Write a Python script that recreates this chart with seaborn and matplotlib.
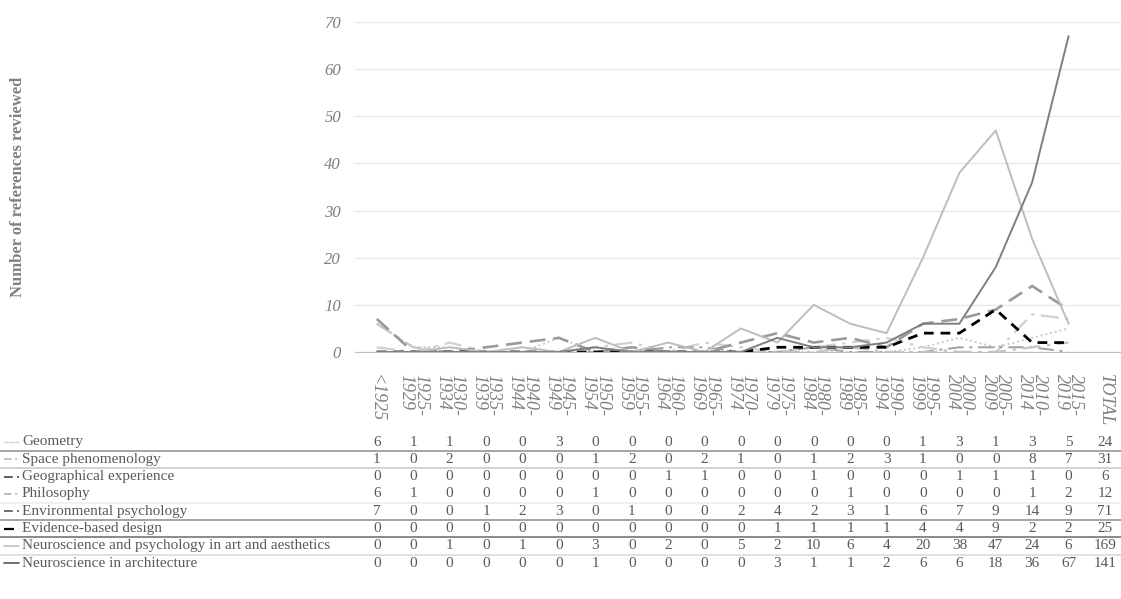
import numpy as np
import pandas as pd
import matplotlib
matplotlib.use("Agg")
import matplotlib.pyplot as plt
import matplotlib.transforms as mtransforms
from matplotlib.lines import Line2D
import seaborn as sns

periods = ["<1925", "1925-\n1929", "1930-\n1934", "1935-\n1939", "1940-\n1944", "1945-\n1949",
           "1950-\n1954", "1955-\n1959", "1960-\n1964", "1965-\n1969", "1970-\n1974", "1975-\n1979",
           "1980-\n1984", "1985-\n1989", "1990-\n1994", "1995-\n1999", "2000-\n2004", "2005-\n2009",
           "2010-\n2014", "2015-\n2019", "TOTAL"]

series_names = ["Geometry", "Space phenomenology", "Geographical experience", "Philosophy",
                "Environmental psychology", "Evidence-based design",
                "Neuroscience and psychology in art and aesthetics", "Neuroscience in architecture"]

geometry = [6, 1, 1, 0, 0, 3, 0, 0, 0, 0, 0, 0, 0, 0, 0, 1, 3, 1, 3, 5, 24]
space_phen = [1, 0, 2, 0, 0, 0, 1, 2, 0, 2, 1, 0, 1, 2, 3, 1, 0, 0, 8, 7, 31]
geo_exp = [0, 0, 0, 0, 0, 0, 0, 0, 1, 1, 0, 0, 1, 0, 0, 0, 1, 1, 1, 0, 6]
philosophy = [6, 1, 0, 0, 0, 0, 1, 0, 0, 0, 0, 0, 0, 1, 0, 0, 0, 0, 1, 2, 12]
env_psych = [7, 0, 0, 1, 2, 3, 0, 1, 0, 0, 2, 4, 2, 3, 1, 6, 7, 9, 14, 9, 71]
evidence = [0, 0, 0, 0, 0, 0, 0, 0, 0, 0, 0, 1, 1, 1, 1, 4, 4, 9, 2, 2, 25]
neuro_art = [0, 0, 1, 0, 1, 0, 3, 0, 2, 0, 5, 2, 10, 6, 4, 20, 38, 47, 24, 6, 169]
neuro_arch = [0, 0, 0, 0, 0, 0, 1, 0, 0, 0, 0, 3, 1, 1, 2, 6, 6, 18, 36, 67, 141]

all_series = [geometry, space_phen, geo_exp, philosophy, env_psych, evidence, neuro_art, neuro_arch]

# line styles per series (colour, dash pattern, width)
styles = [
    ("#c8c8c8", (0, (1, 1.5)), 1.4),
    ("#d0d0d0", (0, (8, 3, 1.5, 3)), 1.6),
    ("#a0a0a0", (0, (8, 3, 1.5, 3)), 1.4),
    ("#c4c4c4", (0, (8, 3, 1.5, 3)), 1.6),
    ("#9a9a9a", (0, (6, 3)), 1.9),
    ("#000000", (0, (3.5, 2.5)), 2.0),
    ("#bdbdbd", "-", 1.4),
    ("#7f7f7f", "-", 1.4),
]
# small samples in front of the table row names
key_styles = [
    ("#b0b0b0", (0, (0.8, 0.8)), 1.0),
    ("#b8b8b8", (0, (4.5, 2.2, 1.2, 2.2)), 1.2),
    ("#606060", (0, (4.5, 2.2, 1.2, 2.2)), 1.4),
    ("#b0b0b0", (0, (4.5, 2.2, 1.2, 2.2)), 1.2),
    ("#707070", (0, (4.5, 2.2, 1.2, 2.2)), 1.4),
    ("#000000", (0, (4.5, 2.2, 1.2, 2.2)), 1.6),
    ("#c0c0c0", "-", 1.2),
    ("#707070", "-", 1.4),
]
row_lines = ["#8c8c8c", "#c8c8c8", None, "#ececec", "#8c8c8c", "#6a6a6a", "#d8d8d8", None]

sns.set_style("white")
plt.rcParams["font.family"] = ["Liberation Serif", "DejaVu Serif"]

W, H = 1121, 599
fig = plt.figure(figsize=(W / 100, H / 100), dpi=100)
ax = fig.add_axes([355 / W, (H - 352) / H, (W - 355) / W, 330 / H])

n_line = len(periods) - 1  # TOTAL column is not plotted
for name, vals, (col, ls, lw) in zip(series_names, all_series, styles):
    df = pd.DataFrame({"x": np.arange(n_line), "y": vals[:n_line]})
    sns.lineplot(data=df, x="x", y="y", ax=ax, color=col, linestyle=ls, linewidth=lw)

ax.set_ylim(0, 70)
ax.set_xlim(-0.6, 20.44)
ax.set_yticks(range(0, 71, 10))
ax.yaxis.grid(True, color="#e8e8e8", linewidth=1)
ax.set_axisbelow(True)
for s in ["top", "right", "left"]:
    ax.spines[s].set_visible(False)
ax.spines["bottom"].set_color("#c0c0c0")
ax.set_xticks(range(len(periods)))
ax.set_xticklabels(periods, rotation=270, fontsize=13, style="italic", color="#7f7f7f",
                   linespacing=0.8, va="top", ha="center", multialignment="left")
ax.tick_params(axis="x", length=0, pad=16)
ax.tick_params(axis="y", length=0, pad=10, labelsize=12, labelcolor="#7f7f7f")
for t in ax.get_yticklabels():
    t.set_style("italic")
ax.set_xlabel("")
ax.set_ylabel("")

fig.text(18 / W, (H - 187) / H, "Number of references reviewed", rotation=90, fontsize=12,
         fontweight="bold", color="#808080", ha="center", va="center")

# data table under the chart
trans = mtransforms.blended_transform_factory(ax.transData, fig.transFigure)
row0 = 442
row_h = 17.3
for i, (name, vals) in enumerate(zip(series_names, all_series)):
    col, ls, lw = key_styles[i]
    yc = row0 + i * row_h
    yf = (H - yc) / H
    fig.add_artist(Line2D([4 / W, 19 / W], [yf, yf], color=col, linestyle=ls,
                          linewidth=lw, transform=fig.transFigure))
    fig.text(22 / W, yf, name, fontsize=11, color="#595959", ha="left", va="center")
    for j, v in enumerate(vals):
        ax.text(j, yf, str(v), transform=trans, fontsize=11, color="#595959",
                ha="center", va="center", clip_on=False)
    if row_lines[i] is not None:
        ly = (H - (yc + 8.8)) / H
        fig.add_artist(Line2D([0, 1], [ly, ly], color=row_lines[i], linewidth=1.1,
                              transform=fig.transFigure))

fig.savefig("out.png", dpi=100, facecolor="white")
